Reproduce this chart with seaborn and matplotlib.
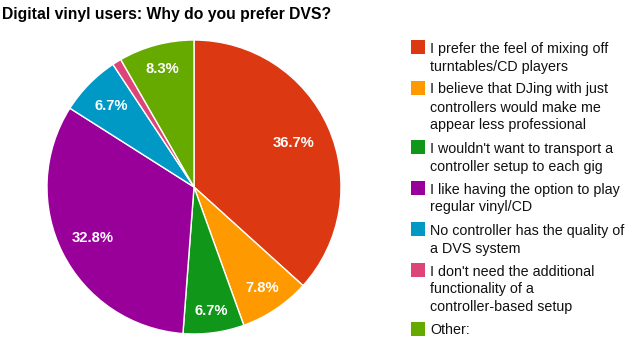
import matplotlib
matplotlib.use("Agg")
import matplotlib.pyplot as plt
import matplotlib.patches as mpatches
import numpy as np
import seaborn as sns

sns.set_theme(style="white")
plt.rcParams['font.family'] = ['Liberation Sans', 'DejaVu Sans']

title = "Digital vinyl users: Why do you prefer DVS?"
categories = [
    "I prefer the feel of mixing off\nturntables/CD players",
    "I believe that DJing with just\ncontrollers would make me\nappear less professional",
    "I wouldn't want to transport a\ncontroller setup to each gig",
    "I like having the option to play\nregular vinyl/CD",
    "No controller has the quality of\na DVS system",
    "I don't need the additional\nfunctionality of a\ncontroller-based setup",
    "Other:",
]
values = [36.7, 7.8, 6.7, 32.8, 6.7, 1.0, 8.3]
pct_labels = ["36.7%", "7.8%", "6.7%", "32.8%", "6.7%", "", "8.3%"]
colors = ["#DC3912", "#FF9900", "#109618", "#990099", "#0099C6", "#DD4477", "#66AA00"]

# label placement (radius fraction along each slice bisector)
label_radius = [0.74, 0.83, 0.85, 0.77, 0.79, 0.8, 0.83]

W, H = 633, 346
fig = plt.figure(figsize=(W / 100, H / 100), dpi=100)
cx, cy, r = 194, 187, 147
ax = fig.add_axes([(cx - r) / W, (H - cy - r) / H, 2 * r / W, 2 * r / H])
wedges, _ = ax.pie(values, colors=colors, startangle=90, counterclock=False,
                   wedgeprops=dict(edgecolor="white", linewidth=1.0))
ax.set_xlim(-1, 1)
ax.set_ylim(-1, 1)
ax.set_aspect("auto")
ax.axis("off")

for w, lab, rf in zip(wedges, pct_labels, label_radius):
    if not lab:
        continue
    mid = np.deg2rad((w.theta1 + w.theta2) / 2)
    ax.text(rf * np.cos(mid), rf * np.sin(mid), lab, ha="center", va="center",
            color="white", fontsize=10.6, fontweight="bold")

fig.text(2 / W, 1 - 15 / H, title, fontsize=11.3, fontweight="bold",
         ha="left", va="center", color="black")

# legend
line_h = 18
gap = 5
y = 47
for cat, col in zip(categories, colors):
    fig.patches.append(mpatches.Rectangle((411 / W, 1 - (y + 7) / H), 14 / W, 14 / H,
                                          transform=fig.transFigure, facecolor=col,
                                          edgecolor="none"))
    lines = cat.split("\n")
    for i, ln in enumerate(lines):
        fig.text(430 / W, 1 - (y + 1.5 + i * line_h) / H, ln, fontsize=10.3, ha="left",
                 va="center", color="#111111")
    y += len(lines) * line_h + gap

fig.savefig("out.png", dpi=100, facecolor="white")
